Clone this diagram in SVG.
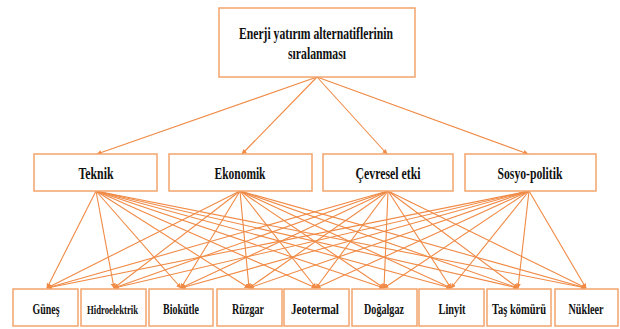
<svg xmlns="http://www.w3.org/2000/svg" width="620" height="329" viewBox="0 0 620 329">
<style>
.box{fill:#fff;stroke:#F4A46C;stroke-width:1.5}
.ln{stroke:#F08A45;stroke-width:1.1;fill:none;marker-end:url(#ah)}
.t{font-family:"Liberation Serif","Times New Roman",serif;font-weight:bold;fill:#111;text-anchor:middle}
.t1{font-size:17px}
.t2{font-size:17px}
.t3{font-size:15px}
</style>
<defs>
<marker id="ah" viewBox="0 0 10 10" refX="9" refY="5" markerWidth="5" markerHeight="5" markerUnits="userSpaceOnUse" orient="auto">
<path d="M0,0 L10,5 L0,10 z" fill="#F08A45"/>
</marker>
</defs>
<rect width="620" height="329" fill="#fff"/>
<g id="connectors">
<line class="ln" x1="317" y1="77" x2="97" y2="154"/>
<line class="ln" x1="317" y1="77" x2="242" y2="154"/>
<line class="ln" x1="317" y1="77" x2="387" y2="154"/>
<line class="ln" x1="317" y1="77" x2="528" y2="154"/>
<g id="from-teknik">
<line class="ln" x1="96" y1="191" x2="47" y2="288"/>
<line class="ln" x1="96" y1="191" x2="114" y2="288"/>
<line class="ln" x1="96" y1="191" x2="181" y2="288"/>
<line class="ln" x1="96" y1="191" x2="249" y2="288"/>
<line class="ln" x1="96" y1="191" x2="316" y2="288"/>
<line class="ln" x1="96" y1="191" x2="384" y2="288"/>
<line class="ln" x1="96" y1="191" x2="451" y2="288"/>
<line class="ln" x1="96" y1="191" x2="518" y2="288"/>
<line class="ln" x1="96" y1="191" x2="586" y2="288"/>
</g>
<g id="from-ekonomik">
<line class="ln" x1="240" y1="191" x2="47" y2="288"/>
<line class="ln" x1="240" y1="191" x2="114" y2="288"/>
<line class="ln" x1="240" y1="191" x2="181" y2="288"/>
<line class="ln" x1="240" y1="191" x2="249" y2="288"/>
<line class="ln" x1="240" y1="191" x2="316" y2="288"/>
<line class="ln" x1="240" y1="191" x2="384" y2="288"/>
<line class="ln" x1="240" y1="191" x2="451" y2="288"/>
<line class="ln" x1="240" y1="191" x2="518" y2="288"/>
<line class="ln" x1="240" y1="191" x2="586" y2="288"/>
</g>
<g id="from-cevresel">
<line class="ln" x1="388" y1="191" x2="47" y2="288"/>
<line class="ln" x1="388" y1="191" x2="114" y2="288"/>
<line class="ln" x1="388" y1="191" x2="181" y2="288"/>
<line class="ln" x1="388" y1="191" x2="249" y2="288"/>
<line class="ln" x1="388" y1="191" x2="316" y2="288"/>
<line class="ln" x1="388" y1="191" x2="384" y2="288"/>
<line class="ln" x1="388" y1="191" x2="451" y2="288"/>
<line class="ln" x1="388" y1="191" x2="518" y2="288"/>
<line class="ln" x1="388" y1="191" x2="586" y2="288"/>
</g>
<g id="from-sosyo">
<line class="ln" x1="529" y1="191" x2="47" y2="288"/>
<line class="ln" x1="529" y1="191" x2="114" y2="288"/>
<line class="ln" x1="529" y1="191" x2="181" y2="288"/>
<line class="ln" x1="529" y1="191" x2="249" y2="288"/>
<line class="ln" x1="529" y1="191" x2="316" y2="288"/>
<line class="ln" x1="529" y1="191" x2="384" y2="288"/>
<line class="ln" x1="529" y1="191" x2="451" y2="288"/>
<line class="ln" x1="529" y1="191" x2="518" y2="288"/>
<line class="ln" x1="529" y1="191" x2="586" y2="288"/>
</g>
</g>
<g id="goal"><rect class="box" x="219" y="8" width="196" height="69"/>
<text class="t t1" x="316" y="39" textLength="154" lengthAdjust="spacingAndGlyphs">Enerji yatırım alternatiflerinin</text>
<text class="t t1" x="317" y="59" textLength="58" lengthAdjust="spacingAndGlyphs">sıralanması</text></g>
<g id="teknik"><rect class="box" x="34" y="154" width="123" height="37"/><text class="t t2" x="96" y="179" textLength="35" lengthAdjust="spacingAndGlyphs">Teknik</text></g>
<g id="ekonomik"><rect class="box" x="169" y="154" width="143" height="37"/><text class="t t2" x="240" y="179" textLength="51" lengthAdjust="spacingAndGlyphs">Ekonomik</text></g>
<g id="cevresel"><rect class="box" x="323" y="154" width="130" height="37"/><text class="t t2" x="388" y="179" textLength="65" lengthAdjust="spacingAndGlyphs">Çevresel etki</text></g>
<g id="sosyo"><rect class="box" x="465" y="154" width="131" height="37"/><text class="t t2" x="530" y="179" textLength="65" lengthAdjust="spacingAndGlyphs">Sosyo-politik</text></g>
<g id="gunes"><rect class="box" x="13" y="289" width="65" height="37"/><text class="t t3" x="46" y="314" textLength="27" lengthAdjust="spacingAndGlyphs">Güneş</text></g>
<g id="hidro"><rect class="box" x="81" y="289" width="65" height="37"/><text class="t" font-size="12.5" x="112.5" y="314" textLength="51" lengthAdjust="spacingAndGlyphs">Hidroelektrik</text></g>
<g id="biokutle"><rect class="box" x="149" y="289" width="64" height="37"/><text class="t t3" x="181" y="314" textLength="36" lengthAdjust="spacingAndGlyphs">Biokütle</text></g>
<g id="ruzgar"><rect class="box" x="217" y="289" width="65" height="37"/><text class="t t3" x="248" y="314" textLength="32" lengthAdjust="spacingAndGlyphs">Rüzgar</text></g>
<g id="jeotermal"><rect class="box" x="284" y="289" width="65" height="37"/><text class="t t3" x="315" y="314" textLength="48" lengthAdjust="spacingAndGlyphs">Jeotermal</text></g>
<g id="dogalgaz"><rect class="box" x="352" y="289" width="65" height="37"/><text class="t t3" x="384" y="314" textLength="40" lengthAdjust="spacingAndGlyphs">Doğalgaz</text></g>
<g id="linyit"><rect class="box" x="419" y="289" width="65" height="37"/><text class="t t3" x="452" y="314" textLength="27" lengthAdjust="spacingAndGlyphs">Linyit</text></g>
<g id="taskomuru"><rect class="box" x="487" y="289" width="64" height="37"/><text class="t t3" x="519" y="314" textLength="54" lengthAdjust="spacingAndGlyphs">Taş kömürü</text></g>
<g id="nukleer"><rect class="box" x="555" y="289" width="63" height="37"/><text class="t t3" x="586" y="314" textLength="35" lengthAdjust="spacingAndGlyphs">Nükleer</text></g>
</svg>
